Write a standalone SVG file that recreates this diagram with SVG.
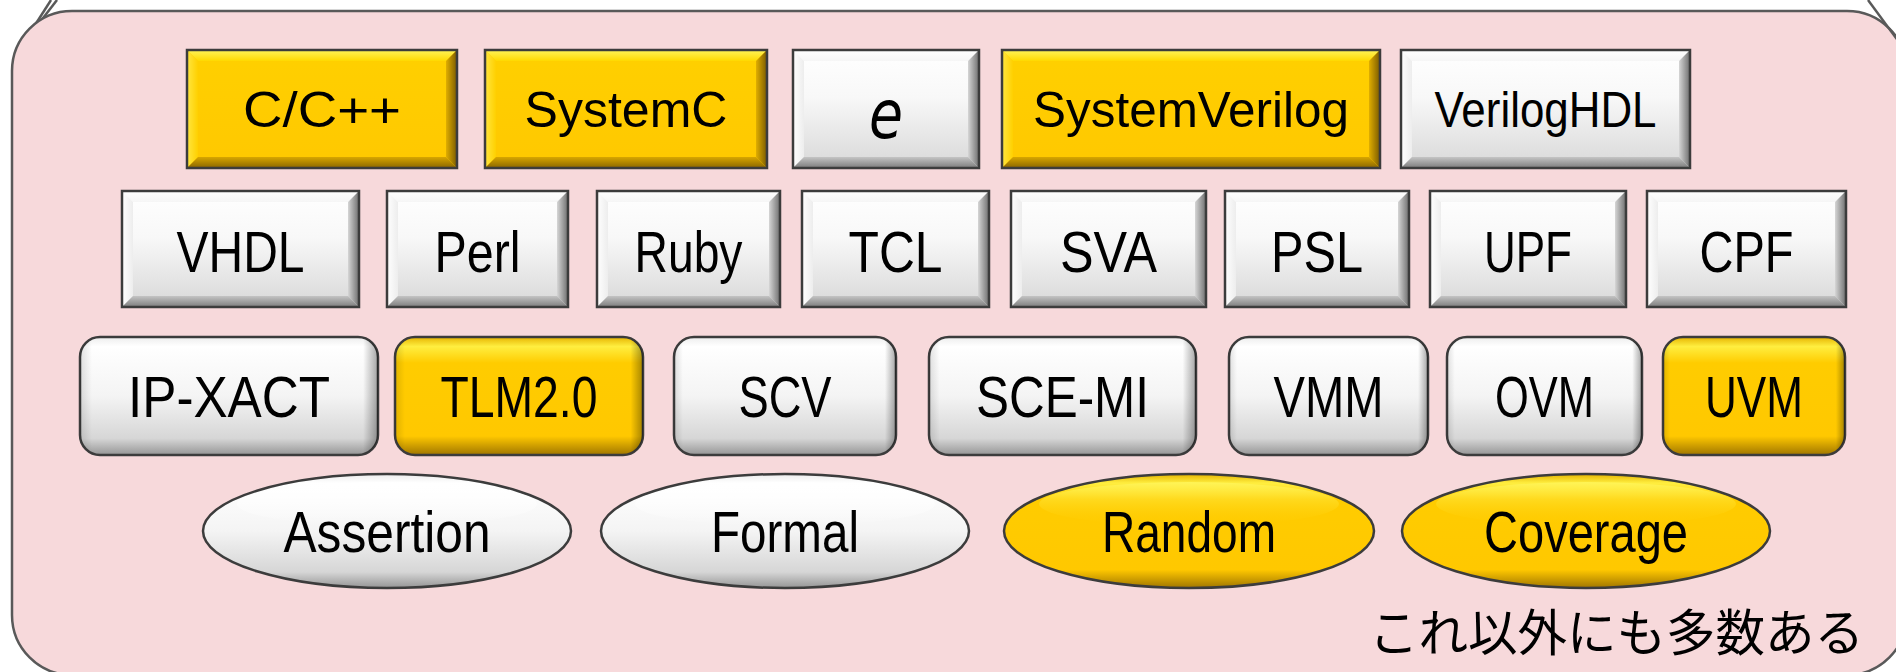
<svg xmlns="http://www.w3.org/2000/svg" width="1896" height="672" viewBox="0 0 1896 672">
  <defs>
    <!-- bevelled square buttons: gold -->
    <linearGradient id="goldFace" x1="0" y1="0" x2="0" y2="1">
      <stop offset="0" stop-color="#FFD000"/><stop offset="1" stop-color="#FFC800"/>
    </linearGradient>
    <linearGradient id="goldTop" x1="0" y1="0" x2="0" y2="1">
      <stop offset="0" stop-color="#FFF45A"/><stop offset="1" stop-color="#FFD800"/>
    </linearGradient>
    <linearGradient id="goldLeft" x1="0" y1="0" x2="1" y2="0">
      <stop offset="0" stop-color="#FFE640"/><stop offset="1" stop-color="#FFD000"/>
    </linearGradient>
    <linearGradient id="goldRight" x1="0" y1="0" x2="1" y2="0">
      <stop offset="0" stop-color="#E0AE00"/><stop offset="1" stop-color="#7A5A00"/>
    </linearGradient>
    <linearGradient id="goldBottom" x1="0" y1="0" x2="0" y2="1">
      <stop offset="0" stop-color="#D8A600"/><stop offset="1" stop-color="#8A6600"/>
    </linearGradient>
    <!-- bevelled square buttons: silver -->
    <linearGradient id="grayFace" x1="0" y1="0" x2="0" y2="1">
      <stop offset="0" stop-color="#FFFFFF"/><stop offset="0.4" stop-color="#F8F8F8"/><stop offset="1" stop-color="#D8D8D8"/>
    </linearGradient>
    <linearGradient id="grayTop" x1="0" y1="0" x2="0" y2="1">
      <stop offset="0" stop-color="#FFFFFF"/><stop offset="1" stop-color="#F6F6F6"/>
    </linearGradient>
    <linearGradient id="grayLeft" x1="0" y1="0" x2="1" y2="0">
      <stop offset="0" stop-color="#FFFFFF"/><stop offset="1" stop-color="#EDEDED"/>
    </linearGradient>
    <linearGradient id="grayRight" x1="0" y1="0" x2="1" y2="0">
      <stop offset="0" stop-color="#D6D6D6"/><stop offset="1" stop-color="#6E6E6E"/>
    </linearGradient>
    <linearGradient id="grayBottom" x1="0" y1="0" x2="0" y2="1">
      <stop offset="0" stop-color="#C4C4C4"/><stop offset="1" stop-color="#7C7C7C"/>
    </linearGradient>
    <!-- soft rounded buttons and ovals -->
    <linearGradient id="whiteSoft" x1="0" y1="0" x2="0" y2="1">
      <stop offset="0" stop-color="#EDEDED"/><stop offset="0.08" stop-color="#FFFFFF"/>
      <stop offset="0.5" stop-color="#F4F4F4"/><stop offset="0.86" stop-color="#D6D6D6"/>
      <stop offset="1" stop-color="#959595"/>
    </linearGradient>
    <linearGradient id="goldSoft" x1="0" y1="0" x2="0" y2="1">
      <stop offset="0" stop-color="#E6B400"/><stop offset="0.08" stop-color="#FFEE40"/>
      <stop offset="0.22" stop-color="#FFCC00"/><stop offset="0.84" stop-color="#FFC800"/>
      <stop offset="1" stop-color="#A07600"/>
    </linearGradient>
    <linearGradient id="sideShade" x1="0" y1="0" x2="1" y2="0">
      <stop offset="0" stop-color="#000" stop-opacity="0.12"/>
      <stop offset="0.04" stop-color="#000" stop-opacity="0"/>
      <stop offset="0.95" stop-color="#000" stop-opacity="0"/>
      <stop offset="1" stop-color="#000" stop-opacity="0.35"/>
    </linearGradient>
    <!-- gloss on the ovals -->
    <linearGradient id="glossGold" x1="0" y1="0" x2="0" y2="1">
      <stop offset="0" stop-color="#FFF55A" stop-opacity="0.9"/>
      <stop offset="1" stop-color="#FFCC00" stop-opacity="0"/>
    </linearGradient>
    <linearGradient id="glossWhite" x1="0" y1="0" x2="0" y2="1">
      <stop offset="0" stop-color="#FFFFFF" stop-opacity="1"/>
      <stop offset="1" stop-color="#FFFFFF" stop-opacity="0"/>
    </linearGradient>
  </defs>
  <style>
    .frame { fill: #F7D9DB; stroke: #595959; stroke-width: 2.5; }
    .tail { fill: none; stroke: #595959; stroke-width: 2.5; }
    .edge { fill: none; stroke: #3C3C3C; stroke-width: 2.5; }
    .gface { fill: url(#goldFace); }
    .gtop { fill: url(#goldTop); }
    .gleft { fill: url(#goldLeft); }
    .gright { fill: url(#goldRight); }
    .gbot { fill: url(#goldBottom); }
    .sface { fill: url(#grayFace); }
    .stop { fill: url(#grayTop); }
    .sleft { fill: url(#grayLeft); }
    .sright { fill: url(#grayRight); }
    .sbot { fill: url(#grayBottom); }
    .wsoft { fill: url(#whiteSoft); stroke: #3C3C3C; stroke-width: 2.5; }
    .gsoft { fill: url(#goldSoft); stroke: #3C3C3C; stroke-width: 2.5; }
    .shade { fill: url(#sideShade); }
    .ggloss { fill: url(#glossGold); }
    .wgloss { fill: url(#glossWhite); }
    .lbl { font-family: "Liberation Sans", Arial, sans-serif; fill: #000; text-anchor: middle; }
    .l1 { font-size: 50px; }
    .l2 { font-size: 57px; }
    .note { font-family: "Noto Sans CJK JP", "Noto Sans CJK SC", sans-serif; font-size: 49.5px; fill: #000; }
  </style>

  <!-- callout background -->
  <g id="callout">
    <line class="tail" x1="28" y1="36" x2="51" y2="0"/>
    <line class="tail" x1="40" y1="22" x2="57" y2="0"/>
    <rect class="frame" x="12" y="11" width="1895" height="664" rx="60" ry="60"/>
    <line class="tail" x1="1868" y1="0" x2="1910" y2="57"/>
  </g>

  <!-- row 1: bevelled buttons -->
  <g id="n-cpp" transform="translate(187,50)">
    <rect class="gface" width="270" height="118"/>
    <polygon class="gtop" points="0,0 270,0 259,11 11,11"/>
    <polygon class="gleft" points="0,0 11,11 11,107 0,118"/>
    <polygon class="gright" points="270,0 270,118 259,107 259,11"/>
    <polygon class="gbot" points="0,118 11,107 259,107 270,118"/>
    <rect class="edge" width="270" height="118"/>
    <text class="lbl l1" x="135" y="77" textLength="158" lengthAdjust="spacingAndGlyphs">C/C++</text>
  </g>
  <g id="n-systemc" transform="translate(485,50)">
    <rect class="gface" width="282" height="118"/>
    <polygon class="gtop" points="0,0 282,0 271,11 11,11"/>
    <polygon class="gleft" points="0,0 11,11 11,107 0,118"/>
    <polygon class="gright" points="282,0 282,118 271,107 271,11"/>
    <polygon class="gbot" points="0,118 11,107 271,107 282,118"/>
    <rect class="edge" width="282" height="118"/>
    <text class="lbl l1" x="141" y="77">SystemC</text>
  </g>
  <g id="n-e" transform="translate(793,50)">
    <rect class="sface" width="186" height="118"/>
    <polygon class="stop" points="0,0 186,0 175,11 11,11"/>
    <polygon class="sleft" points="0,0 11,11 11,107 0,118"/>
    <polygon class="sright" points="186,0 186,118 175,107 175,11"/>
    <polygon class="sbot" points="0,118 11,107 175,107 186,118"/>
    <rect class="edge" width="186" height="118"/>
    <text x="93" y="88" font-family="'DejaVu Sans', sans-serif" font-style="italic" font-size="68" text-anchor="middle" textLength="34" lengthAdjust="spacingAndGlyphs">e</text>
  </g>
  <g id="n-systemverilog" transform="translate(1002,50)">
    <rect class="gface" width="378" height="118"/>
    <polygon class="gtop" points="0,0 378,0 367,11 11,11"/>
    <polygon class="gleft" points="0,0 11,11 11,107 0,118"/>
    <polygon class="gright" points="378,0 378,118 367,107 367,11"/>
    <polygon class="gbot" points="0,118 11,107 367,107 378,118"/>
    <rect class="edge" width="378" height="118"/>
    <text class="lbl l1" x="189" y="77" textLength="316" lengthAdjust="spacingAndGlyphs">SystemVerilog</text>
  </g>
  <g id="n-veriloghdl" transform="translate(1401,50)">
    <rect class="sface" width="289" height="118"/>
    <polygon class="stop" points="0,0 289,0 278,11 11,11"/>
    <polygon class="sleft" points="0,0 11,11 11,107 0,118"/>
    <polygon class="sright" points="289,0 289,118 278,107 278,11"/>
    <polygon class="sbot" points="0,118 11,107 278,107 289,118"/>
    <rect class="edge" width="289" height="118"/>
    <text class="lbl l1" x="144.5" y="77" textLength="222" lengthAdjust="spacingAndGlyphs">VerilogHDL</text>
  </g>

  <!-- row 2: bevelled buttons -->
  <g id="n-vhdl" transform="translate(122,191)">
    <rect class="sface" width="237" height="116"/>
    <polygon class="stop" points="0,0 237,0 226,11 11,11"/>
    <polygon class="sleft" points="0,0 11,11 11,105 0,116"/>
    <polygon class="sright" points="237,0 237,116 226,105 226,11"/>
    <polygon class="sbot" points="0,116 11,105 226,105 237,116"/>
    <rect class="edge" width="237" height="116"/>
    <text class="lbl l2" x="118.5" y="81" textLength="128" lengthAdjust="spacingAndGlyphs">VHDL</text>
  </g>
  <g id="n-perl" transform="translate(387,191)">
    <rect class="sface" width="181" height="116"/>
    <polygon class="stop" points="0,0 181,0 170,11 11,11"/>
    <polygon class="sleft" points="0,0 11,11 11,105 0,116"/>
    <polygon class="sright" points="181,0 181,116 170,105 170,11"/>
    <polygon class="sbot" points="0,116 11,105 170,105 181,116"/>
    <rect class="edge" width="181" height="116"/>
    <text class="lbl l2" x="90.5" y="81" textLength="86" lengthAdjust="spacingAndGlyphs">Perl</text>
  </g>
  <g id="n-ruby" transform="translate(597,191)">
    <rect class="sface" width="183" height="116"/>
    <polygon class="stop" points="0,0 183,0 172,11 11,11"/>
    <polygon class="sleft" points="0,0 11,11 11,105 0,116"/>
    <polygon class="sright" points="183,0 183,116 172,105 172,11"/>
    <polygon class="sbot" points="0,116 11,105 172,105 183,116"/>
    <rect class="edge" width="183" height="116"/>
    <text class="lbl l2" x="91.5" y="81" textLength="108" lengthAdjust="spacingAndGlyphs">Ruby</text>
  </g>
  <g id="n-tcl" transform="translate(802,191)">
    <rect class="sface" width="187" height="116"/>
    <polygon class="stop" points="0,0 187,0 176,11 11,11"/>
    <polygon class="sleft" points="0,0 11,11 11,105 0,116"/>
    <polygon class="sright" points="187,0 187,116 176,105 176,11"/>
    <polygon class="sbot" points="0,116 11,105 176,105 187,116"/>
    <rect class="edge" width="187" height="116"/>
    <text class="lbl l2" x="93.5" y="81" textLength="94" lengthAdjust="spacingAndGlyphs">TCL</text>
  </g>
  <g id="n-sva" transform="translate(1011,191)">
    <rect class="sface" width="195" height="116"/>
    <polygon class="stop" points="0,0 195,0 184,11 11,11"/>
    <polygon class="sleft" points="0,0 11,11 11,105 0,116"/>
    <polygon class="sright" points="195,0 195,116 184,105 184,11"/>
    <polygon class="sbot" points="0,116 11,105 184,105 195,116"/>
    <rect class="edge" width="195" height="116"/>
    <text class="lbl l2" x="97.5" y="81" textLength="97" lengthAdjust="spacingAndGlyphs">SVA</text>
  </g>
  <g id="n-psl" transform="translate(1225,191)">
    <rect class="sface" width="184" height="116"/>
    <polygon class="stop" points="0,0 184,0 173,11 11,11"/>
    <polygon class="sleft" points="0,0 11,11 11,105 0,116"/>
    <polygon class="sright" points="184,0 184,116 173,105 173,11"/>
    <polygon class="sbot" points="0,116 11,105 173,105 184,116"/>
    <rect class="edge" width="184" height="116"/>
    <text class="lbl l2" x="92" y="81" textLength="92" lengthAdjust="spacingAndGlyphs">PSL</text>
  </g>
  <g id="n-upf" transform="translate(1430,191)">
    <rect class="sface" width="196" height="116"/>
    <polygon class="stop" points="0,0 196,0 185,11 11,11"/>
    <polygon class="sleft" points="0,0 11,11 11,105 0,116"/>
    <polygon class="sright" points="196,0 196,116 185,105 185,11"/>
    <polygon class="sbot" points="0,116 11,105 185,105 196,116"/>
    <rect class="edge" width="196" height="116"/>
    <text class="lbl l2" x="98" y="81" textLength="88" lengthAdjust="spacingAndGlyphs">UPF</text>
  </g>
  <g id="n-cpf" transform="translate(1647,191)">
    <rect class="sface" width="199" height="116"/>
    <polygon class="stop" points="0,0 199,0 188,11 11,11"/>
    <polygon class="sleft" points="0,0 11,11 11,105 0,116"/>
    <polygon class="sright" points="199,0 199,116 188,105 188,11"/>
    <polygon class="sbot" points="0,116 11,105 188,105 199,116"/>
    <rect class="edge" width="199" height="116"/>
    <text class="lbl l2" x="99.5" y="81" textLength="94" lengthAdjust="spacingAndGlyphs">CPF</text>
  </g>

  <!-- row 3: soft rounded buttons -->
  <g id="n-ipxact" transform="translate(80,337)">
    <rect class="wsoft" width="298" height="118" rx="20"/>
    <rect class="shade" width="298" height="118" rx="20"/>
    <text class="lbl l2" x="149" y="80" textLength="202" lengthAdjust="spacingAndGlyphs">IP-XACT</text>
  </g>
  <g id="n-tlm" transform="translate(395,337)">
    <rect class="gsoft" width="248" height="118" rx="20"/>
    <rect class="shade" width="248" height="118" rx="20"/>
    <text class="lbl l2" x="124" y="80" textLength="157" lengthAdjust="spacingAndGlyphs">TLM2.0</text>
  </g>
  <g id="n-scv" transform="translate(674,337)">
    <rect class="wsoft" width="222" height="118" rx="20"/>
    <rect class="shade" width="222" height="118" rx="20"/>
    <text class="lbl l2" x="111" y="80" textLength="93" lengthAdjust="spacingAndGlyphs">SCV</text>
  </g>
  <g id="n-scemi" transform="translate(929,337)">
    <rect class="wsoft" width="267" height="118" rx="20"/>
    <rect class="shade" width="267" height="118" rx="20"/>
    <text class="lbl l2" x="133.5" y="80" textLength="173" lengthAdjust="spacingAndGlyphs">SCE-MI</text>
  </g>
  <g id="n-vmm" transform="translate(1229,337)">
    <rect class="wsoft" width="199" height="118" rx="20"/>
    <rect class="shade" width="199" height="118" rx="20"/>
    <text class="lbl l2" x="99.5" y="80" textLength="110" lengthAdjust="spacingAndGlyphs">VMM</text>
  </g>
  <g id="n-ovm" transform="translate(1447,337)">
    <rect class="wsoft" width="195" height="118" rx="20"/>
    <rect class="shade" width="195" height="118" rx="20"/>
    <text class="lbl l2" x="97.5" y="80" textLength="99" lengthAdjust="spacingAndGlyphs">OVM</text>
  </g>
  <g id="n-uvm" transform="translate(1663,337)">
    <rect class="gsoft" width="182" height="118" rx="20"/>
    <rect class="shade" width="182" height="118" rx="20"/>
    <text class="lbl l2" x="91" y="80" textLength="98" lengthAdjust="spacingAndGlyphs">UVM</text>
  </g>

  <!-- row 4: ovals -->
  <g id="n-assertion">
    <ellipse class="wsoft" cx="387" cy="531" rx="184" ry="57"/>
    <ellipse class="wgloss" cx="387" cy="504" rx="150" ry="22"/>
    <text class="lbl l2" x="387" y="552" textLength="207" lengthAdjust="spacingAndGlyphs">Assertion</text>
  </g>
  <g id="n-formal">
    <ellipse class="wsoft" cx="785" cy="531" rx="184" ry="57"/>
    <ellipse class="wgloss" cx="785" cy="504" rx="150" ry="22"/>
    <text class="lbl l2" x="785" y="552" textLength="148" lengthAdjust="spacingAndGlyphs">Formal</text>
  </g>
  <g id="n-random">
    <ellipse class="gsoft" cx="1189" cy="531" rx="185" ry="57"/>
    <ellipse class="ggloss" cx="1189" cy="504" rx="150" ry="22"/>
    <text class="lbl l2" x="1189" y="552" textLength="174" lengthAdjust="spacingAndGlyphs">Random</text>
  </g>
  <g id="n-coverage">
    <ellipse class="gsoft" cx="1586" cy="531" rx="184" ry="57"/>
    <ellipse class="ggloss" cx="1586" cy="504" rx="150" ry="22"/>
    <text class="lbl l2" x="1586" y="552" textLength="204" lengthAdjust="spacingAndGlyphs">Coverage</text>
  </g>

  <!-- no connectors in this figure -->
  <g id="connectors"/>

  <text class="note" x="1369" y="651">これ以外にも多数ある</text>
</svg>
